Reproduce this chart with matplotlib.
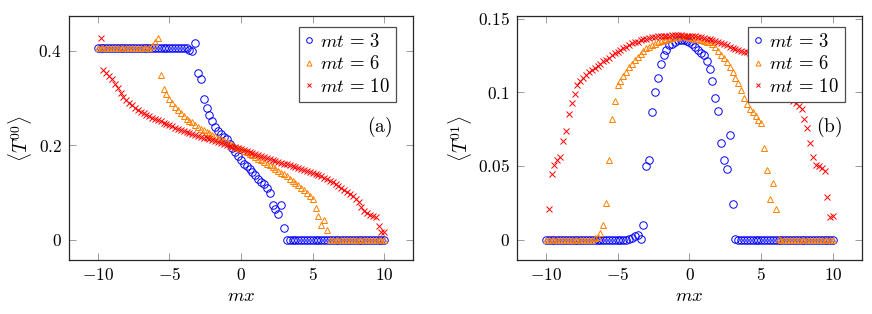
#T00 and T01 profiles for three times mt = 3, 6, 10
#values, grid mx = -10 ... 10 in steps of 0.2

import numpy as np
import matplotlib
matplotlib.use("Agg")
from matplotlib import pyplot as plt
from matplotlib.ticker import FuncFormatter

plt.rcParams['mathtext.fontset'] = 'cm'
plt.rcParams['font.family'] = 'serif'
plt.rcParams['font.serif'] = ['DejaVu Serif']

nan = np.nan

#Data -----------------------------
mx = [-10.0, -9.8, -9.6, -9.4, -9.2, -9.0, -8.8, -8.6, -8.4, -8.2,
      -8.0, -7.8, -7.6, -7.4, -7.2, -7.0, -6.8, -6.6, -6.4, -6.2,
      -6.0, -5.8, -5.6, -5.4, -5.2, -5.0, -4.8, -4.6, -4.4, -4.2,
      -4.0, -3.8, -3.6, -3.4, -3.2, -3.0, -2.8, -2.6, -2.4, -2.2,
      -2.0, -1.8, -1.6, -1.4, -1.2, -1.0, -0.8, -0.6, -0.4, -0.2,
      0.0, 0.2, 0.4, 0.6, 0.8, 1.0, 1.2, 1.4, 1.6, 1.8,
      2.0, 2.2, 2.4, 2.6, 2.8, 3.0, 3.2, 3.4, 3.6, 3.8,
      4.0, 4.2, 4.4, 4.6, 4.8, 5.0, 5.2, 5.4, 5.6, 5.8,
      6.0, 6.2, 6.4, 6.6, 6.8, 7.0, 7.2, 7.4, 7.6, 7.8,
      8.0, 8.2, 8.4, 8.6, 8.8, 9.0, 9.2, 9.4, 9.6, 9.8,
      10.0]

times = ["3", "6", "10"]

#<T00>
t00_mt3 = [0.405, 0.405, 0.405, 0.405, 0.405, 0.405, 0.405, 0.405, 0.405, 0.405,
           0.405, 0.405, 0.405, 0.405, 0.405, 0.405, 0.405, 0.405, 0.405, 0.405,
           0.405, 0.405, 0.405, 0.405, 0.405, 0.405, 0.405, 0.405, 0.405, 0.405,
           0.405, 0.405, 0.402, 0.398, 0.415, 0.352, 0.340, 0.298, 0.279, 0.263,
           0.250, 0.239, 0.230, 0.223, 0.217, 0.212, 0.203, 0.194, 0.185, 0.177,
           0.169, 0.161, 0.155, 0.149, 0.143, 0.136, 0.128, 0.122, 0.118, 0.110,
           0.098, 0.073, 0.065, 0.054, 0.073, 0.025, 0.0, 0.0, 0.0, 0.0,
           0.0, 0.0, 0.0, 0.0, 0.0, 0.0, 0.0, 0.0, 0.0, 0.0,
           0.0, 0.0, 0.0, 0.0, 0.0, 0.0, 0.0, 0.0, 0.0, 0.0,
           0.0, 0.0, 0.0, 0.0, 0.0, 0.0, 0.0, 0.0, 0.0, 0.0,
           0.0]

t00_mt6 = [0.405, 0.405, 0.405, 0.405, 0.405, 0.405, 0.405, 0.405, 0.405, 0.405,
           0.405, 0.405, 0.405, 0.405, 0.405, 0.405, 0.405, 0.405, 0.405, 0.410,
           0.417, 0.427, 0.349, 0.319, 0.308, 0.298, 0.290, 0.281, 0.274, 0.268,
           0.262, 0.256, 0.252, 0.248, 0.243, 0.238, 0.235, 0.231, 0.228, 0.225,
           0.222, 0.219, 0.216, 0.213, 0.210, 0.206, 0.203, 0.200, 0.197, 0.194,
           0.191, 0.188, 0.185, 0.181, 0.178, 0.175, 0.171, 0.168, 0.164, 0.161,
           0.157, 0.154, 0.150, 0.146, 0.142, 0.138, 0.134, 0.129, 0.125, 0.120,
           0.115, 0.110, 0.105, 0.099, 0.093, 0.086, 0.066, 0.051, 0.031, 0.042,
           0.021, 0.0, 0.0, 0.0, 0.0, 0.0, 0.0, 0.0, 0.0, 0.0,
           0.0, 0.0, 0.0, 0.0, 0.0, 0.0, 0.0, 0.0, 0.0, 0.0,
           0.0]

t00_mt10 = [nan, 0.427, 0.358, 0.352, 0.346, 0.340, 0.330, 0.320, 0.311, 0.302,
            0.295, 0.289, 0.284, 0.279, 0.275, 0.271, 0.267, 0.264, 0.261, 0.258,
            0.256, 0.253, 0.250, 0.247, 0.245, 0.242, 0.240, 0.237, 0.235, 0.232,
            0.230, 0.228, 0.226, 0.224, 0.222, 0.220, 0.218, 0.216, 0.214, 0.212,
            0.210, 0.208, 0.206, 0.205, 0.203, 0.201, 0.199, 0.197, 0.195, 0.193,
            0.191, 0.189, 0.187, 0.185, 0.183, 0.181, 0.179, 0.177, 0.175, 0.173,
            0.171, 0.169, 0.167, 0.165, 0.163, 0.161, 0.159, 0.157, 0.155, 0.153,
            0.151, 0.149, 0.147, 0.145, 0.143, 0.141, 0.138, 0.136, 0.134, 0.131,
            0.128, 0.125, 0.121, 0.117, 0.113, 0.109, 0.105, 0.101, 0.097, 0.093,
            0.087, 0.079, 0.069, 0.061, 0.056, 0.053, 0.051, 0.048, 0.029, 0.017,
            0.017]

#<T01>
t01_mt3 = [0.0, 0.0, 0.0, 0.0, 0.0, 0.0, 0.0, 0.0, 0.0, 0.0,
           0.0, 0.0, 0.0, 0.0, 0.0, 0.0, 0.0, 0.0, 0.0, 0.0,
           0.0, 0.0, 0.0, 0.0, 0.0, 0.0, 0.0, 0.0, 0.0, 0.0005,
           0.001, 0.0027, 0.0034, 0.0007, 0.010, 0.050, 0.054, 0.0865, 0.100, 0.110,
           0.119, 0.125, 0.129, 0.132, 0.133, 0.1345, 0.1355, 0.1358, 0.1355, 0.135,
           0.1345, 0.133, 0.131, 0.129, 0.127, 0.125, 0.121, 0.116, 0.108, 0.096,
           0.087, 0.0655, 0.054, 0.048, 0.071, 0.024, 0.0005, 0.0, 0.0, 0.0,
           0.0, 0.0, 0.0, 0.0, 0.0, 0.0, 0.0, 0.0, 0.0, 0.0,
           0.0, 0.0, 0.0, 0.0, 0.0, 0.0, 0.0, 0.0, 0.0, 0.0,
           0.0, 0.0, 0.0, 0.0, 0.0, 0.0, 0.0, 0.0, 0.0, 0.0,
           0.0]

t01_mt6 = [0.0, 0.0, 0.0, 0.0, 0.0, 0.0, 0.0, 0.0, 0.0, 0.0,
           0.0, 0.0, 0.0, 0.0, 0.0, 0.0, 0.0, 0.001, 0.002, 0.0047,
           0.010, 0.025, 0.054, 0.082, 0.094, 0.105, 0.108, 0.111, 0.114, 0.117,
           0.119, 0.122, 0.124, 0.126, 0.128, 0.130, 0.131, 0.132, 0.133, 0.134,
           0.135, 0.1355, 0.136, 0.1365, 0.137, 0.1375, 0.1378, 0.138, 0.138, 0.1378,
           0.1375, 0.137, 0.1365, 0.136, 0.1355, 0.135, 0.1345, 0.134, 0.133, 0.131,
           0.128, 0.1255, 0.123, 0.1205, 0.117, 0.1135, 0.110, 0.106, 0.1015, 0.096,
           0.092, 0.089, 0.0865, 0.084, 0.081, 0.079, 0.062, 0.047, 0.0277, 0.0385,
           0.021, 0.0005, 0.0, 0.0, 0.0, 0.0, 0.0, 0.0, 0.0, 0.0,
           0.0, 0.0, 0.0, 0.0, 0.0, 0.0, 0.0, 0.0, 0.0, 0.0,
           0.0]

t01_mt10 = [nan, 0.021, 0.0446, 0.051, 0.054, 0.056, 0.067, 0.074, 0.085, 0.093,
            0.099, 0.105, 0.108, 0.110, 0.112, 0.1135, 0.115, 0.1165, 0.118, 0.1195,
            0.121, 0.122, 0.1235, 0.125, 0.1265, 0.1277, 0.129, 0.130, 0.131, 0.132,
            0.1333, 0.134, 0.1345, 0.1355, 0.136, 0.1365, 0.137, 0.1373, 0.1376, 0.1379,
            0.1381, 0.1383, 0.1384, 0.1385, 0.1386, 0.1386, 0.1386, 0.1386, 0.1385, 0.1384,
            0.1383, 0.1381, 0.1379, 0.1376, 0.1373, 0.137, 0.1365, 0.136, 0.1353, 0.1346,
            0.134, 0.1333, 0.1325, 0.1318, 0.131, 0.1302, 0.1295, 0.1287, 0.128, 0.1275,
            0.1272, 0.127, 0.1265, 0.1255, 0.124, 0.122, 0.120, 0.118, 0.116, 0.1135,
            0.111, 0.108, 0.1055, 0.1025, 0.099, 0.097, 0.094, 0.0925, 0.091, 0.089,
            0.082, 0.0757, 0.0655, 0.056, 0.051, 0.050, 0.0486, 0.0466, 0.029, 0.0155,
            0.016]

#-------------------------------------------

fig = plt.figure(figsize=(8.72, 3.14), dpi=100)
axA = fig.add_axes([0.0791, 0.172, 0.3945, 0.777])
axB = fig.add_axes([0.5929, 0.172, 0.3956, 0.777])

styles = [dict(marker='o', color='#0000ff', ms=5.4),
          dict(marker='^', color='#ff8000', ms=4.8),
          dict(marker='x', color='#ff0000', ms=4.6)]

mathfmt = FuncFormatter(lambda v, p: r'$%g$' % v if v != 0 else r'$0$')

panels = [(axA, [t00_mt3, t00_mt6, t00_mt10], r'$\langle T^{00}\rangle$', '(a)',
           [0, 0.2, 0.4], (-0.043, 0.473)),
          (axB, [t01_mt3, t01_mt6, t01_mt10], r'$\langle T^{01}\rangle$', '(b)',
           [0, 0.05, 0.1, 0.15], (-0.0138, 0.1518))]

for ax, series, ylab, tag, yt, ylim in panels:
    for ys, t, st in zip(series, times, styles):
        ax.plot(mx, ys, linestyle='none', marker=st['marker'], ms=st['ms'],
                mfc='none', mec=st['color'], mew=0.7, label=r'$mt\,=\,%s$' % t)
    ax.set_xlim(-12, 12)
    ax.set_ylim(*ylim)
    ax.set_xticks([-10, -5, 0, 5, 10])
    ax.set_yticks(yt)
    ax.xaxis.set_major_formatter(FuncFormatter(lambda v, p: r'$%d$' % v))
    ax.yaxis.set_major_formatter(mathfmt)
    ax.tick_params(direction='in', top=True, right=True, length=5, width=0.6,
                   color='0.55', labelsize=12.5, pad=5)
    for s in ax.spines.values():
        s.set_linewidth(0.9)
        s.set_color('0.15')
    ax.set_xlabel(r'$mx$', fontsize=13.5, labelpad=2)
    ax.set_ylabel(ylab, fontsize=14, labelpad=3)
    ax.text(0.904, 0.545, r'$\mathrm{(%s)}$' % tag.strip('()'), transform=ax.transAxes,
            fontsize=14, ha='center', va='center')
    leg = ax.legend(loc='upper right', bbox_to_anchor=(0.95, 0.955), borderaxespad=0,
                    fancybox=False, framealpha=1, edgecolor='0.3', fontsize=13.5,
                    handlelength=0.5, handletextpad=0.35, borderpad=0.3,
                    labelspacing=0.25, markerscale=0.75)
    leg.get_frame().set_linewidth(0.9)

plt.savefig("out.png", dpi=100)
